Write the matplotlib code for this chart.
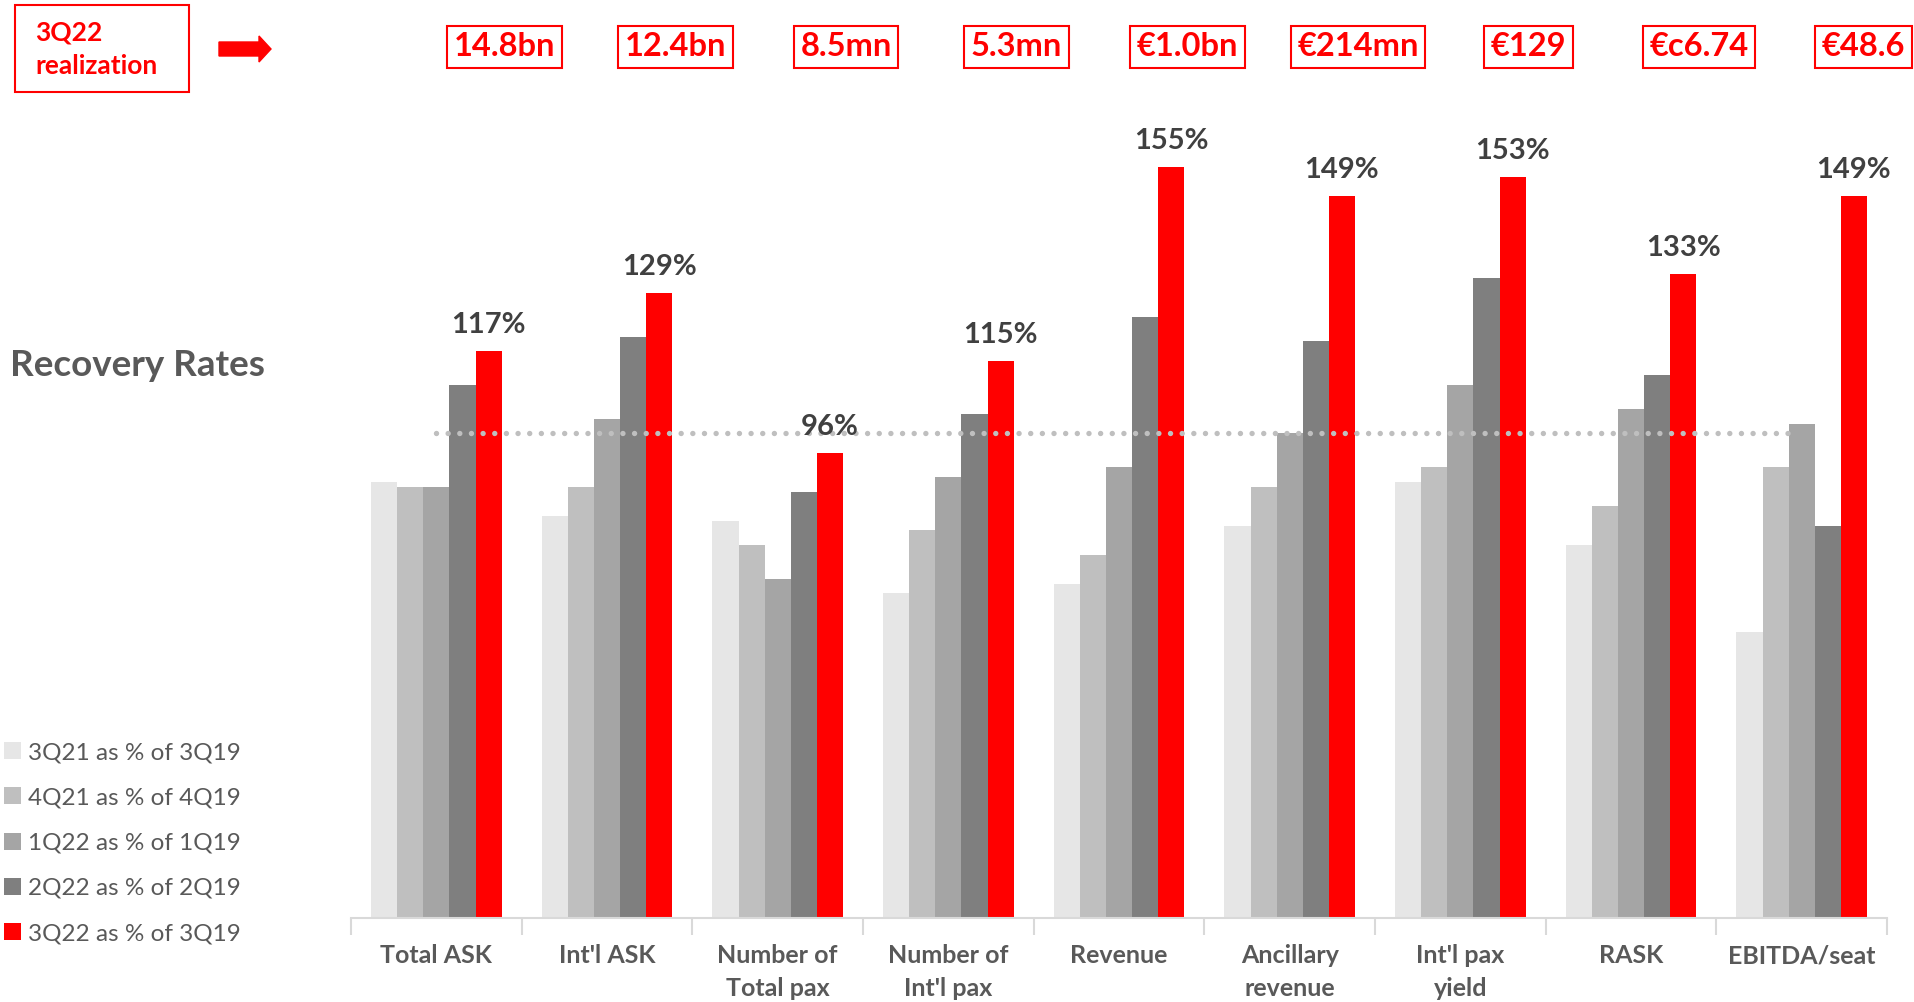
import numpy as np
import matplotlib.pyplot as plt
from matplotlib.patches import Rectangle, FancyArrow
from matplotlib.transforms import blended_transform_factory, Affine2D

plt.rcParams['font.family'] = ['Lato', 'DejaVu Sans']

# --- data (recovery rates, % of 2019 level)

categories = ['Total ASK', "Int'l ASK", 'Number of\nTotal pax', "Number of\nInt'l pax",
              'Revenue', 'Ancillary\nrevenue', "Int'l pax\nyield", 'RASK', 'EBITDA/seat']
series = ['3Q21 as % of 3Q19', '4Q21 as % of 4Q19', '1Q22 as % of 1Q19',
          '2Q22 as % of 2Q19', '3Q22 as % of 3Q19']
q3_21 = [90, 83, 82, 67, 69, 81, 90, 77, 59]
q4_21 = [89, 89, 77, 80, 75, 89, 93, 85, 93]
q1_22 = [89, 103, 70, 91, 93, 100, 110, 105, 102]
q2_22 = [110, 120, 88, 104, 124, 119, 132, 112, 81]
q3_22 = [117, 129, 96, 115, 155, 149, 153, 133, 149]
realization = ['14.8bn', '12.4bn', '8.5mn', '5.3mn', '€1.0bn', '€214mn', '€129', '€c6.74', '€48.6']

colors = ['#E6E6E6', '#BFBFBF', '#A5A5A5', '#7F7F7F', '#FF0000']
grey_txt = '#595959'

fig = plt.figure(figsize=(19.15, 10.02), dpi=100)
ax = fig.add_axes([0.1833, 0.0838, 0.8021, 0.798])

x = np.arange(len(categories))
w = 0.153
bars = []
for k, vals in enumerate([q3_21, q4_21, q1_22, q2_22, q3_22]):
    b = ax.bar(x + (k - 2) * w, vals, width=w, color=colors[k], label=series[k])
    bars.append(b)

# labels over the red bars
for xi, v in zip(x, q3_22):
    ax.text(xi + 2 * w, v + 2.6, f'{v}%', ha='center', va='bottom',
            fontsize=21, fontweight='bold', color='#404040')

# 100% reference line
ax.plot([0.0, 7.93], [100, 100], color='#BFBFBF', lw=3.9,
        dashes=(0.001, 2.15), dash_capstyle='round', solid_capstyle='round')

ax.set_xlim(-0.5, len(categories) - 0.5)
ax.set_ylim(0, 165)
ax.set_yticks([])
for s in ['top', 'right', 'left']:
    ax.spines[s].set_visible(False)
ax.spines['bottom'].set_color('#D9D9D9')
ax.spines['bottom'].set_linewidth(1.5)
ax.set_xticks(x)
ax.set_xticklabels(categories, fontsize=18, fontweight='bold', color=grey_txt, linespacing=1.5)
ax.tick_params(axis='x', which='major', length=0, pad=19)
ax.set_xticks(np.arange(-0.5, len(categories), 1), minor=True)
ax.tick_params(axis='x', which='minor', length=12, width=1.5, color='#D9D9D9')

# realization boxes on top
trans = blended_transform_factory(ax.transData, fig.transFigure)
boxes = []
for xi, t in zip(x, realization):
    boxes.append(ax.text(xi + 0.40, 1 - 47 / 1002, t, transform=trans, ha='center', va='center',
                         fontsize=23.5, fontweight='bold', color='#FF0000', clip_on=False,
                         bbox=dict(boxstyle='square,pad=0.2', fc='white', ec='#FF0000', lw=1.5)))

# keep the boxes inside the figure
fig.canvas.draw()
W = fig.bbox.width
for b in boxes:
    ext = b.get_bbox_patch().get_window_extent()
    if ext.x1 > W - 3:
        b.set_transform(trans + Affine2D().translate(-(ext.x1 - W + 3), 0))

# "3Q22 realization" box + arrow
fig.patches.append(Rectangle((15 / 1915, 1 - 92 / 1002), 174 / 1915, 87 / 1002,
                             transform=fig.transFigure, fill=False, ec='#FF0000', lw=1.5))
fig.text(35 / 1915, 1 - 33 / 1002, '3Q22', fontsize=19, fontweight='bold', color='#FF0000', va='center')
fig.text(35 / 1915, 1 - 66 / 1002, 'realization', fontsize=19, fontweight='bold', color='#FF0000', va='center')
fig.patches.append(FancyArrow(2.19, 9.53, 0.52, 0, width=0.14, head_width=0.26, head_length=0.12,
                              length_includes_head=True, transform=fig.dpi_scale_trans,
                              color='#FF0000'))

fig.text(10 / 1915, 1 - 365 / 1002, 'Recovery Rates', fontsize=26.5, fontweight='bold',
         color=grey_txt, va='center')

fig.legend(handles=bars, labels=series, loc='upper left', bbox_to_anchor=(4 / 1915, 1 - 742 / 1002),
           frameon=False, fontsize=17.5, labelcolor=grey_txt, handlelength=0.7, handleheight=0.7,
           handletextpad=0.3, labelspacing=1.0, borderpad=0, borderaxespad=0)

fig.savefig('out.png', dpi=100)
